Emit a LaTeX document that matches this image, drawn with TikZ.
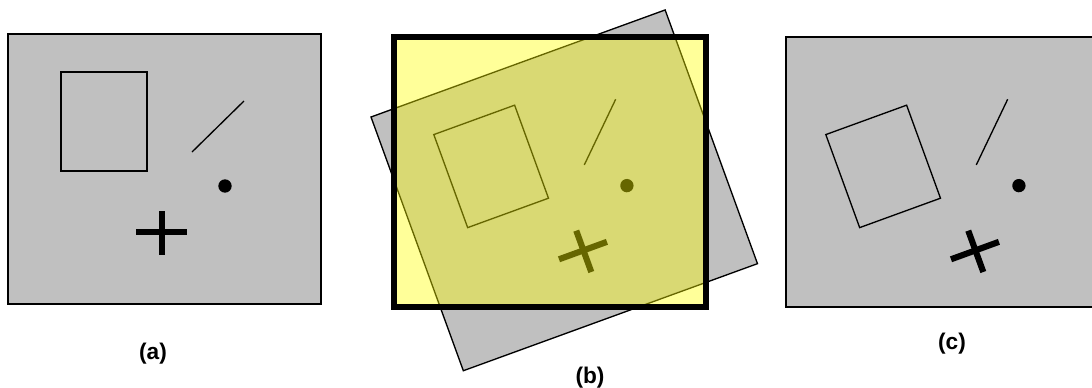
\documentclass[tikz,border=0pt]{standalone}
\usepackage{fontspec}
\setmainfont{Liberation Sans}
\usepackage{tikz}
\usetikzlibrary{positioning}
\definecolor{bggray}{RGB}{192,192,192}
\definecolor{winyellow}{RGB}{255,255,0}
\newcommand\ImgW{313}
\newcommand\ImgH{270}
\newcommand\ImgShapes{%
  \draw[outline] (53,38) rectangle (139,137);
  \draw[outline] (184,118) -- (236,67);
  \fill (217,152) circle[radius=5pt];
  \draw[crossarm] (128,198) -- (179,198);
  \draw[crossarm] (154,177) -- (154,221);
}
\tikzset{
  photo/.style={
    fill = bggray,
    draw = black,
    line width = 1pt
  },
  outline/.style={
    line width = 1pt
  },
  crossarm/.style={
    line width = 4.6pt
  },
}
\tikzset{
  window/.style={
    fill = winyellow,
    fill opacity = 0.4
  },
  windowedge/.style={
    draw = black,
    line width = 4.2pt
  },
  caption/.style={
    font = \bfseries\fontsize{17}{20}\selectfont,
    inner sep = 0pt
  }
}

\begin{document}
\begin{tikzpicture}[x=0.75pt, y=-0.75pt]
  \useasboundingbox (0,0) rectangle (1092,387);

  % (a) original image
  \begin{scope}[shift={(8,34)}]
    \draw[photo] (0,0) rectangle (\ImgW,\ImgH);
    \ImgShapes
  \end{scope}
  \node[caption] (capA) at (153,354) {(a)};

  % (b) rotated image under the window
  \begin{scope}[shift={(371,117)}, rotate=20]
    \draw[photo] (0,0) rectangle (\ImgW,\ImgH);
    \ImgShapes
  \end{scope}
  \fill[window] (394,37) rectangle (706,307);
  \draw[windowedge] (394,37) rectangle (706,307);
  \node[caption] (capB) at (590,378) {(b)};

  % (c) result
  \draw[photo] (786,37) rectangle (1098,307);
  \begin{scope}[shift={(763,117)}, rotate=20]
    \ImgShapes
  \end{scope}
  \node[caption] (capC) at (952,344) {(c)};
\end{tikzpicture}
\end{document}
